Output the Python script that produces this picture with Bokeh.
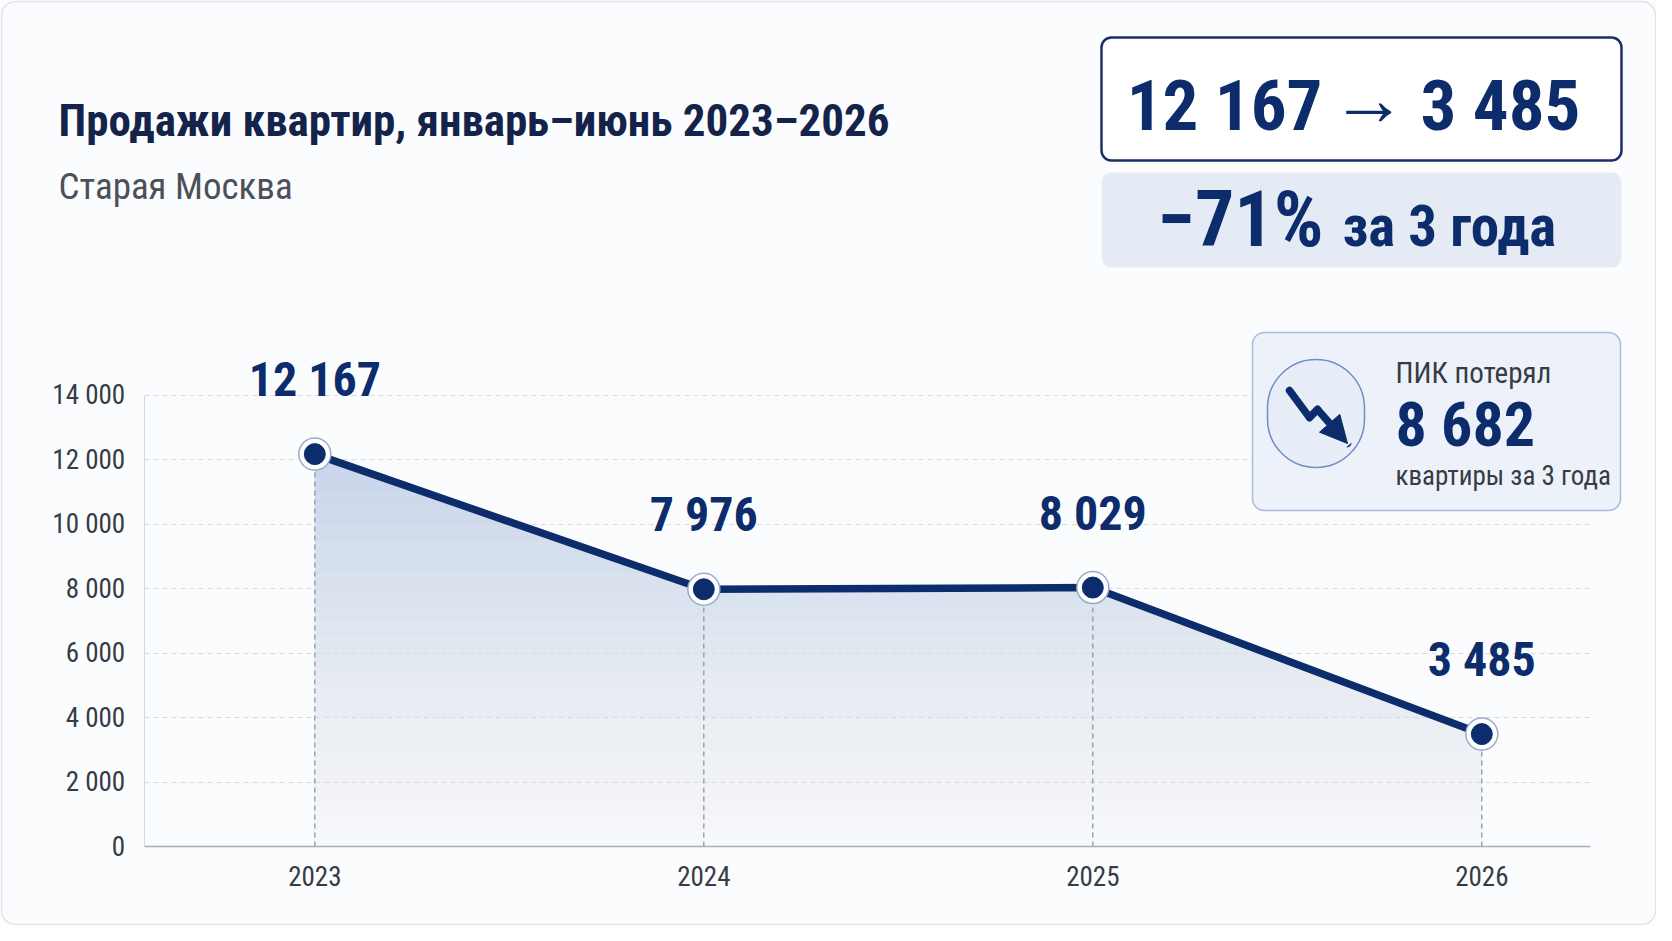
from bokeh.plotting import figure
from bokeh.models import (Range1d, FixedTicker, LabelSet, BoxAnnotation,
                          Arrow, NormalHead, ColumnDataSource, LinearAxis, Grid)
from bokeh.core.properties import value
from bokeh.embed import file_html
from bokeh.resources import INLINE

# ---------------- data ----------------
YEARS = [2023, 2024, 2025, 2026]
YEAR_LABELS = ["2023", "2024", "2025", "2026"]
SALES = [12167, 7976, 8029, 3485]
Y_TICKS = [0, 2000, 4000, 6000, 8000, 10000, 12000, 14000]
Y_TICK_LABELS = ["0", "2 000", "4 000", "6 000", "8 000", "10 000", "12 000", "14 000"]
TITLE = "Продажи квартир, январь–июнь 2023–2026"
SUBTITLE = "Старая Москва"
HEAD_FROM = "12 167"
HEAD_ARROW = "→"
HEAD_TO = "3 485"
CHANGE_PCT = "−71%"
CHANGE_PERIOD = "за 3 года"
PIK_TITLE = "ПИК потерял"
PIK_LOSS = "8 682"
PIK_NOTE = "квартиры за 3 года"

# ---------------- style ----------------
W, H = 1656, 925
BG = "#fbfcfe"
NAVY = "#0d2c6c"
TITLE_C = "#13234a"
GRAY_T = "#363b44"
AREA_TOP = "#c0d0ea"
FC = "Roboto Condensed"

# chart rectangle on the canvas (px)
CL, CR, CT, CB = 143.7, 1590.0, 394.5, 846.0
XL, XR = YEARS[0] - 0.4386, YEARS[-1] + 0.2794
YL, YH = Y_TICKS[0], Y_TICKS[-1]
kx = (CR - CL) / (XR - XL)
ky = (CB - CT) / (YH - YL)

p = figure(width=W, height=H,
           x_range=Range1d(XL - CL / kx, XR + (W - CR) / kx),
           y_range=Range1d(YL - (H - CB) / ky, YH + CT / ky),
           x_axis_location=None, y_axis_location=None,
           output_backend="svg", toolbar_location=None,
           min_border=0,
           background_fill_color=BG, border_fill_color=BG,
           outline_line_color=None)
p.xgrid.visible = False
p.ygrid.visible = False

# axes
yax = LinearAxis(fixed_location=XL, bounds=(YL, YH),
                 ticker=FixedTicker(ticks=Y_TICKS),
                 major_label_overrides={t: l for t, l in zip(Y_TICKS, Y_TICK_LABELS)},
                 axis_line_color="#d3d7de", axis_line_width=1,
                 major_label_standoff=19)
xax = LinearAxis(fixed_location=YL, bounds=(XL, XR),
                 ticker=FixedTicker(ticks=YEARS),
                 major_label_overrides={y: l for y, l in zip(YEARS, YEAR_LABELS)},
                 axis_line_color="#a6adb8", axis_line_width=1.5,
                 major_label_standoff=19)
for ax in (xax, yax):
    ax.major_tick_line_color = None
    ax.minor_tick_line_color = None
    ax.major_tick_out = 0
    ax.major_tick_in = 0
    ax.minor_tick_out = 0
    ax.major_label_text_font = FC
    ax.major_label_text_font_size = "27px"
    ax.major_label_text_color = GRAY_T
p.add_layout(yax, "left")
p.add_layout(xax, "below")

# horizontal grid
if "cross_bounds" in Grid.properties():
    p.add_layout(Grid(dimension=1, ticker=FixedTicker(ticks=Y_TICKS[1:]),
                      bounds=(YL, YH), cross_bounds=(XL, XR),
                      grid_line_color="#d6dae1", grid_line_dash="5 4",
                      grid_line_width=1))
else:
    p.segment(x0=[XL] * (len(Y_TICKS) - 1), x1=[XR] * (len(Y_TICKS) - 1),
              y0=Y_TICKS[1:], y1=Y_TICKS[1:], line_color="#d6dae1",
              line_dash="5 4", line_width=1, level="underlay")

# gradient area: base fill + fading overlays (colour fraction ~ (y/ymax)^G)
p.varea(x=YEARS, y1=0, y2=SALES, fill_color=AREA_TOP, fill_alpha=1, level="image")
N, G = 28, 1.2
for k in range(1, N):
    p.varea(x=[YEARS[0], YEARS[-1]], y1=0, y2=YH * k / N,
            fill_color=BG, fill_alpha=1.0 - (k / (k + 1)) ** G, level="image")

# drop lines
p.segment(x0=YEARS, y0=[0] * len(YEARS), x1=YEARS, y1=SALES,
          line_color="#8f96a3", line_dash="5 4", line_width=1.3)

# main line and markers
p.line(YEARS, SALES, line_color=NAVY, line_width=7.5, line_join="round")
p.scatter(YEARS, SALES, size=32, fill_color="white", line_color="#9aabcb", line_width=1.5)
p.scatter(YEARS, SALES, size=21, fill_color=NAVY, line_color=NAVY)

src = ColumnDataSource(dict(x=YEARS, y=SALES,
                            t=[f"{v:,}".replace(",", " ") for v in SALES]))
p.add_layout(LabelSet(x="x", y="y", text="t", source=src, y_offset=58,
                      text_align="center", text_baseline="alphabetic",
                      text_font=value(FC), text_font_size="48px",
                      text_font_style="bold", text_color=NAVY))

# ---------------- header / cards (page px -> canvas screen units) ----------------
def sx(px):
    return px - 8

def sy(py):
    return H - (py - 8)

def box(x0, y0, x1, y1, fill, line, lw, r):
    p.add_layout(BoxAnnotation(left=sx(x0), right=sx(x1), top=sy(y0), bottom=sy(y1),
                               left_units="screen", right_units="screen",
                               top_units="screen", bottom_units="screen",
                               fill_color=fill if fill else "white",
                               fill_alpha=1 if fill else 0,
                               line_color=line if line else "white", line_width=lw,
                               line_alpha=1 if line else 0,
                               border_radius=r, level="annotation"))

def seg(a, b, head=False):
    p.add_layout(Arrow(x_start=sx(a[0]), y_start=sy(a[1]),
                       x_end=sx(b[0]), y_end=sy(b[1]),
                       start_units="screen", end_units="screen",
                       start=None,
                       end=NormalHead(size=27, fill_color=NAVY, line_color=NAVY,
                                      line_width=1) if head else None,
                       line_color=NAVY, line_width=7.5, line_cap="round",
                       level="annotation"))

# card outline
box(9, 9, 1663, 932, None, "#e1e4e9", 1.5, 14)

# boxes
box(1109, 45, 1629, 168, "white", "#1b2f68", 2.5, 10)
box(1109, 180, 1629, 275, "#e4ebf5", None, 0, 10)
box(1260, 340, 1628, 518, "#edf2fa", "#a7bbdd", 1.5, 12)
box(1275, 367, 1372, 475, "#e8eef8", "#6f8fc4", 1.5, 50)
seg((1297, 398), (1317, 425))
seg((1317, 425), (1325, 417))
seg((1325, 417), (1355, 451), head=True)

# header texts: (page x, page baseline, text, size px, colour, style, align)
rows = [
    (66, 143, TITLE, 45, TITLE_C, "bold", "left"),
    (66, 206, SUBTITLE, 37, "#4b5059", "normal", "left"),
    (1330, 137, HEAD_FROM, 71, NAVY, "bold", "right"),
    (1376, 132, HEAD_ARROW, 76, NAVY, "bold", "center"),
    (1428, 137, HEAD_TO, 71, NAVY, "bold", "left"),
    (1331, 253, CHANGE_PCT, 78, NAVY, "bold", "right"),
    (1350, 253, CHANGE_PERIOD, 57, NAVY, "bold", "left"),
    (1403, 390, PIK_TITLE, 29, GRAY_T, "normal", "left"),
    (1403, 453, PIK_LOSS, 62, NAVY, "bold", "left"),
    (1403, 492, PIK_NOTE, 27, GRAY_T, "normal", "left"),
]
hsrc = ColumnDataSource(dict(
    x=[sx(r[0]) for r in rows], y=[sy(r[1]) for r in rows],
    text=[r[2] for r in rows], size=[f"{r[3]}px" for r in rows],
    color=[r[4] for r in rows], style=[r[5] for r in rows],
    align=[r[6] for r in rows]))
p.add_layout(LabelSet(x="x", y="y", text="text", source=hsrc,
                      x_units="screen", y_units="screen",
                      text_font=value(FC), text_font_size="size",
                      text_color="color", text_font_style="style",
                      text_align="align", text_baseline="alphabetic",
                      level="annotation"))

open("out.html", "w").write(file_html(p, INLINE))
